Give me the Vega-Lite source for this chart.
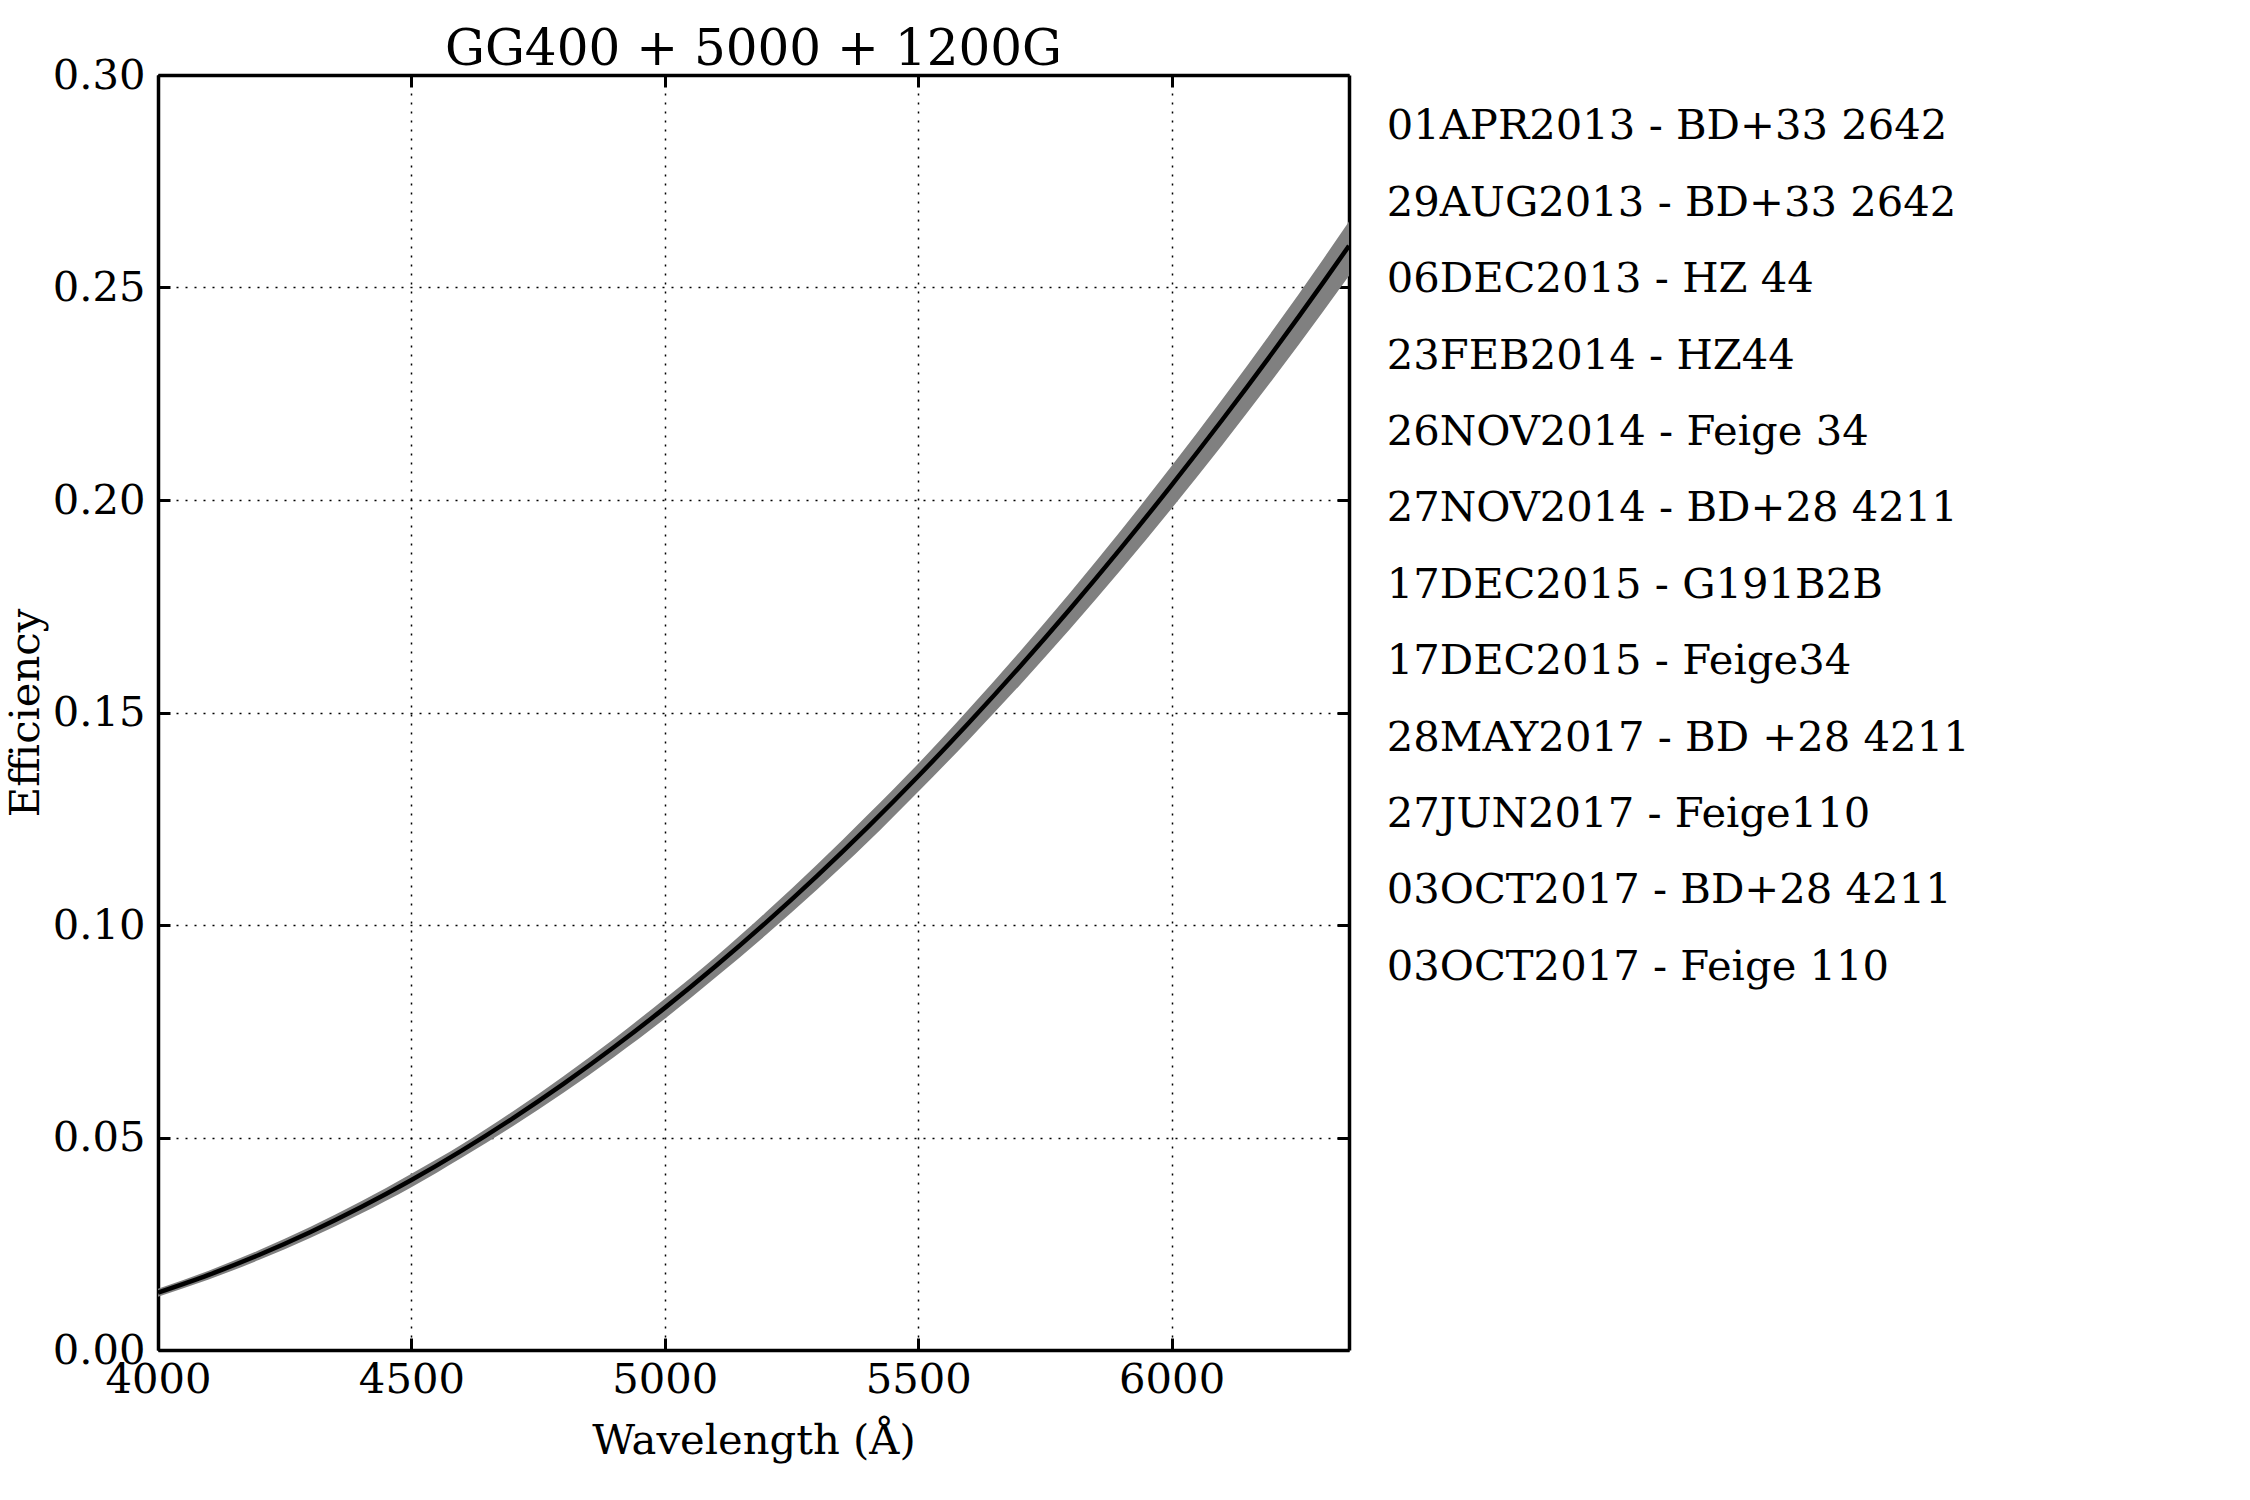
{
  "$schema": "https://vega.github.io/schema/vega-lite/v6.json",
  "autosize": {"type": "none"},
  "width": 1191,
  "height": 1275,
  "padding": {"left": 158, "top": 75, "right": 901, "bottom": 150},
  "background": "white",
  "config": {
    "view": {"stroke": null},
    "font": "DejaVu Serif",
    "axis": {
      "labelFont": "DejaVu Serif",
      "labelFontSize": 41.7,
      "labelColor": "black",
      "titleFont": "DejaVu Serif",
      "titleFontSize": 41.7,
      "titleFontWeight": "normal",
      "titleColor": "black",
      "domainColor": "black",
      "domainWidth": 3.5,
      "tickColor": "black",
      "tickWidth": 3,
      "tickSize": -12,
      "gridColor": "black",
      "gridWidth": 1.5,
      "gridDash": [2, 7],
      "gridOpacity": 1,
      "labelFlush": false,
      "labelOverlap": false
    }
  },
  "title": {
    "text": "GG400 + 5000 + 1200G",
    "font": "DejaVu Serif",
    "fontSize": 50,
    "fontWeight": "normal",
    "color": "black",
    "anchor": "middle",
    "frame": "group",
    "baseline": "alphabetic",
    "offset": 10,
    "dy": 70
  },
  "data": {
    "values": [
      {"wl": 4000, "eff": 0.01350, "lo": 0.01254, "hi": 0.01440},
      {"wl": 4100, "eff": 0.01768, "lo": 0.01660, "hi": 0.01867},
      {"wl": 4200, "eff": 0.02242, "lo": 0.02121, "hi": 0.02351},
      {"wl": 4300, "eff": 0.02772, "lo": 0.02637, "hi": 0.02893},
      {"wl": 4400, "eff": 0.03358, "lo": 0.03207, "hi": 0.03492},
      {"wl": 4500, "eff": 0.04000, "lo": 0.03832, "hi": 0.04148},
      {"wl": 4600, "eff": 0.04698, "lo": 0.04531, "hi": 0.04841},
      {"wl": 4700, "eff": 0.05452, "lo": 0.05265, "hi": 0.05612},
      {"wl": 4800, "eff": 0.06262, "lo": 0.06053, "hi": 0.06440},
      {"wl": 4900, "eff": 0.07128, "lo": 0.06896, "hi": 0.07325},
      {"wl": 5000, "eff": 0.08050, "lo": 0.07793, "hi": 0.08267},
      {"wl": 5100, "eff": 0.09028, "lo": 0.08764, "hi": 0.09247},
      {"wl": 5200, "eff": 0.10062, "lo": 0.09770, "hi": 0.10303},
      {"wl": 5300, "eff": 0.11152, "lo": 0.10831, "hi": 0.11417},
      {"wl": 5400, "eff": 0.12298, "lo": 0.11946, "hi": 0.12589},
      {"wl": 5500, "eff": 0.13500, "lo": 0.13136, "hi": 0.13797},
      {"wl": 5600, "eff": 0.14758, "lo": 0.14360, "hi": 0.15083},
      {"wl": 5700, "eff": 0.16072, "lo": 0.15638, "hi": 0.16426},
      {"wl": 5800, "eff": 0.17442, "lo": 0.16971, "hi": 0.17826},
      {"wl": 5900, "eff": 0.18868, "lo": 0.18359, "hi": 0.19283},
      {"wl": 6000, "eff": 0.20350, "lo": 0.19801, "hi": 0.20798},
      {"wl": 6100, "eff": 0.21888, "lo": 0.21297, "hi": 0.22370},
      {"wl": 6200, "eff": 0.23482, "lo": 0.22848, "hi": 0.23999},
      {"wl": 6300, "eff": 0.25132, "lo": 0.24453, "hi": 0.25685},
      {"wl": 6350, "eff": 0.25980, "lo": 0.25279, "hi": 0.26552}
    ]
  },
  "layer": [
    {
      "mark": {"type": "area", "color": "#808080", "opacity": 1, "interpolate": "monotone", "clip": true},
      "encoding": {
        "x": {
          "field": "wl", "type": "quantitative",
          "scale": {"domain": [4000, 6350], "nice": false, "zero": false},
          "axis": {
            "orient": "bottom",
            "values": [4000, 4500, 5000, 5500, 6000],
            "format": "d",
            "grid": true,
            "labelPadding": 21,
            "title": "Wavelength (Å)",
            "titleX": 595.5,
            "titleY": 103,
            "titleAlign": "center",
            "titleBaseline": "alphabetic"
          }
        },
        "y": {
          "field": "lo", "type": "quantitative",
          "scale": {"domain": [0, 0.3], "nice": false, "zero": false},
          "axis": {
            "orient": "left",
            "values": [0, 0.05, 0.1, 0.15, 0.2, 0.25, 0.3],
            "format": ".2f",
            "grid": true,
            "labelPadding": 25,
            "labelBaseline": "middle",
            "title": "Efficiency",
            "titleX": -120,
            "titleY": 637.5,
            "titleAngle": 270,
            "titleAlign": "center",
            "titleBaseline": "alphabetic"
          }
        },
        "y2": {"field": "hi"}
      }
    },
    {
      "mark": {"type": "line", "color": "black", "strokeWidth": 4.5, "interpolate": "monotone", "clip": true},
      "encoding": {
        "x": {
          "field": "wl", "type": "quantitative",
          "axis": {"orient": "top", "values": [4000, 4500, 5000, 5500, 6000], "labels": false, "grid": false, "title": null}
        },
        "y": {
          "field": "eff", "type": "quantitative",
          "axis": {"orient": "right", "values": [0, 0.05, 0.1, 0.15, 0.2, 0.25, 0.3], "labels": false, "grid": false, "title": null}
        }
      }
    },
    {
      "data": {
        "values": [
          {"label": "01APR2013 - BD+33 2642"},
          {"label": "29AUG2013 - BD+33 2642"},
          {"label": "06DEC2013 - HZ 44"},
          {"label": "23FEB2014 - HZ44"},
          {"label": "26NOV2014 - Feige 34"},
          {"label": "27NOV2014 - BD+28 4211"},
          {"label": "17DEC2015 - G191B2B"},
          {"label": "17DEC2015 - Feige34"},
          {"label": "28MAY2017 - BD +28 4211"},
          {"label": "27JUN2017 - Feige110"},
          {"label": "03OCT2017 - BD+28 4211"},
          {"label": "03OCT2017 - Feige 110"}
        ]
      },
      "mark": {"type": "point", "opacity": 0, "size": 0},
      "encoding": {
        "color": {
          "field": "label", "type": "nominal",
          "scale": {
            "domain": [
              "01APR2013 - BD+33 2642", "29AUG2013 - BD+33 2642", "06DEC2013 - HZ 44", "23FEB2014 - HZ44",
              "26NOV2014 - Feige 34", "27NOV2014 - BD+28 4211", "17DEC2015 - G191B2B", "17DEC2015 - Feige34",
              "28MAY2017 - BD +28 4211", "27JUN2017 - Feige110", "03OCT2017 - BD+28 4211", "03OCT2017 - Feige 110"
            ],
            "range": ["#808080", "#808080", "#808080", "#808080", "#808080", "#808080", "#808080", "#808080", "#808080", "#808080", "#808080", "#808080"]
          },
          "legend": {
            "orient": "none",
            "legendX": 1187,
            "legendY": 30.5,
            "direction": "vertical",
            "title": null,
            "padding": 0,
            "rowPadding": 33.4,
            "labelFont": "DejaVu Serif",
            "labelFontSize": 41.7,
            "labelColor": "black",
            "labelLimit": 2000,
            "labelOffset": 0,
            "symbolSize": 0,
            "symbolOpacity": 0,
            "symbolStrokeWidth": 0
          }
        }
      }
    }
  ],
  "resolve": {"axis": {"x": "independent", "y": "independent"}}
}
